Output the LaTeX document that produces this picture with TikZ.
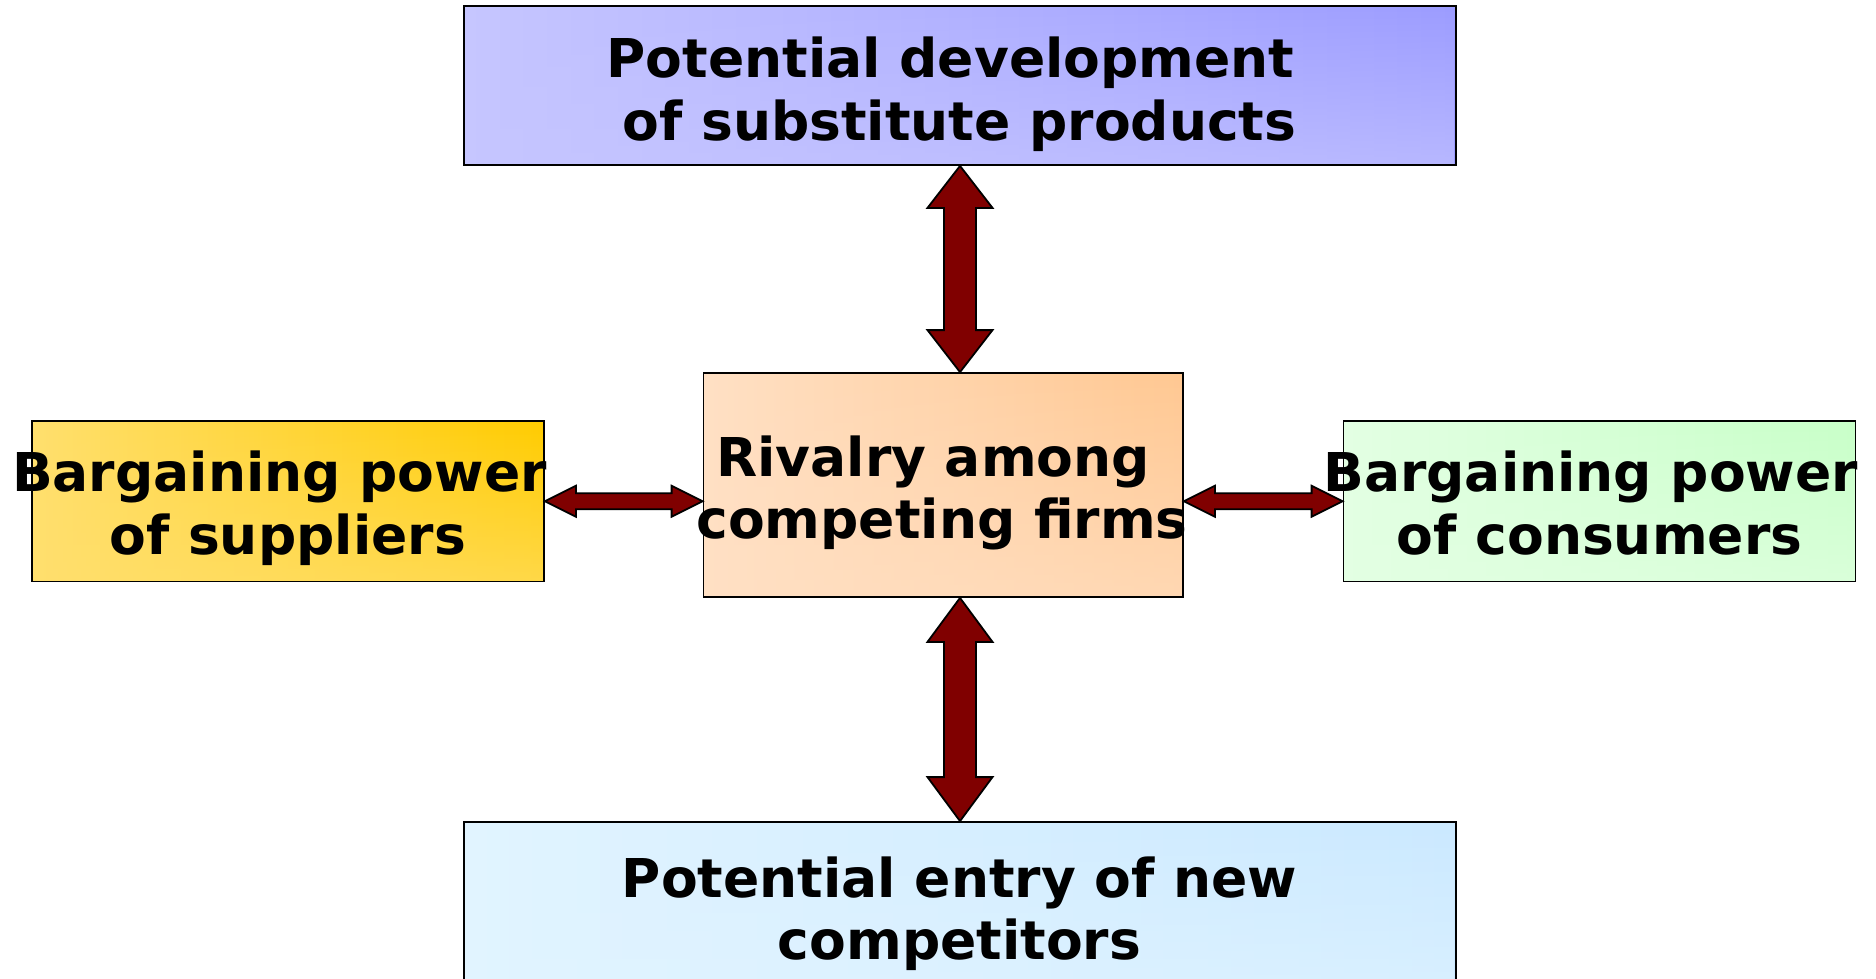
\documentclass[tikz,border=0pt]{standalone}
\usepackage{fontspec}
\setmainfont{DejaVu Sans}
\usetikzlibrary{calc,fadings}
\definecolor{topL}{HTML}{C6C6FF}
\definecolor{topR}{HTML}{9C9CFF}
\definecolor{cenL}{HTML}{FFE0C4}
\definecolor{cenR}{HTML}{FFC892}
\definecolor{leftL}{HTML}{FFDF6E}
\definecolor{leftR}{HTML}{FFCC00}
\definecolor{rightL}{HTML}{E3FFE3}
\definecolor{rightR}{HTML}{C8FFC8}
\definecolor{botL}{HTML}{E1F4FF}
\definecolor{botR}{HTML}{CBE9FF}
\definecolor{arrowred}{HTML}{800000}
\tikzfading[name=bottomopaque, top color=transparent!100, bottom color=transparent!0]
\newcommand\vdarrow[3]{%
  \draw[forcearrow] let \p1=(#1), \p2=(#2) in
    (\x1,\y1) -- (\x1+32.5pt,\y1-#3) -- (\x1+16pt,\y1-#3) -- (\x1+16pt,\y2+#3)
    -- (\x1+32.5pt,\y2+#3) -- (\x1,\y2) -- (\x1-32.5pt,\y2+#3) -- (\x1-16pt,\y2+#3)
    -- (\x1-16pt,\y1-#3) -- (\x1-32.5pt,\y1-#3) -- cycle;}
\newcommand\hdarrow[2]{%
  \draw[forcearrow] let \p1=(#1), \p2=(#2) in
    (\x1,\y1) -- (\x1+31pt,\y1+15.5pt) -- (\x1+31pt,\y1+8pt) -- (\x2-31pt,\y1+8pt)
    -- (\x2-31pt,\y1+15.5pt) -- (\x2,\y1) -- (\x2-31pt,\y1-15.5pt) -- (\x2-31pt,\y1-8pt)
    -- (\x1+31pt,\y1-8pt) -- (\x1+31pt,\y1-15.5pt) -- cycle;}
\begin{document}
\begin{tikzpicture}[x=1pt,y=1pt,
  forcebox/.style={draw=black, line width=1.8pt, rectangle, inner sep=0pt},
  bottomwash/.style={path picture={\fill[#1, path fading=bottomopaque, fill opacity=0.65]
      (path picture bounding box.south west) rectangle (path picture bounding box.north east);}},
  forcearrow/.style={draw=black, line width=1.8pt, fill=arrowred, line join=miter},
  lbl/.style={font=\fontsize{53.5}{62}\selectfont\bfseries, anchor=base, inner sep=0pt}]
\useasboundingbox (0,0) rectangle (1876,-979);
\node[forcebox, minimum width=992pt, minimum height=159pt, left color=topL, right color=topR, bottomwash=topL] (top) at (960,-85.5) {};
\node[forcebox, minimum width=479.5pt, minimum height=224pt, left color=cenL, right color=cenR, bottomwash=cenL] (center) at (943.25,-485) {};
\node[forcebox, minimum width=512pt, minimum height=160.5pt, left color=leftL, right color=leftR, bottomwash=leftL] (left) at (288,-501.25) {};
\node[forcebox, minimum width=512pt, minimum height=160.5pt, left color=rightL, right color=rightR, bottomwash=rightL] (right) at (1599.5,-501.25) {};
\node[forcebox, minimum width=992pt, minimum height=178pt, left color=botL, right color=botR, bottomwash=botL] (bottom) at (960,-911) {};

\node[lbl] (t1) at (950.5,-77.8) {Potential development};
\node[lbl] (t2) at (959.5,-140) {of substitute products};
\node[lbl] (c1) at (933,-476) {Rivalry among};
\node[lbl] (c2) at (942,-538) {competing firms};
\node[lbl] (l1) at (279.4,-491.7) {Bargaining power};
\node[lbl] (l2) at (287.7,-554) {of suppliers};
\node[lbl] (r1) at (1590.6,-491.7) {Bargaining power};
\node[lbl] (r2) at (1599.6,-554) {of consumers};
\node[lbl] (b1) at (959.5,-897) {Potential entry of new};
\node[lbl] (b2) at (959.5,-959.5) {competitors};

\coordinate (ctop) at (top.south |- center.north);
\coordinate (cbot) at (bottom.north |- center.south);
\coordinate (cleft) at (left.east -| center.west);
\coordinate (cright) at (right.west -| center.east);
\vdarrow{top.south}{ctop}{42pt}
\vdarrow{cbot}{bottom.north}{44pt}
\hdarrow{left.east}{cleft}
\hdarrow{cright}{right.west}
\end{tikzpicture}
\end{document}
